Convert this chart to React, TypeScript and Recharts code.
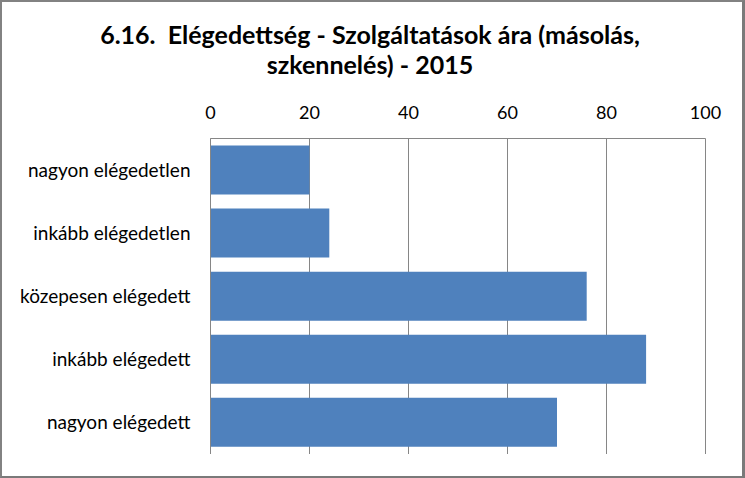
import { BarChart, Bar, XAxis, YAxis, CartesianGrid } from "recharts";

const categories = [
  "nagyon elégedetlen",
  "inkább elégedetlen",
  "közepesen elégedett",
  "inkább elégedett",
  "nagyon elégedett",
];
const values = [20, 24, 76, 88, 70];
const xTicks = [0, 20, 40, 60, 80, 100];

const TITLE_1 = "6.16.  Elégedettség - Szolgáltatások ára (másolás,";
const TITLE_2 = "szkennelés) - 2015";

const FONT = "Lato, 'Open Sans', sans-serif";
const GRAY = "#868686";

const data = categories.map((name, i) => ({ name, value: values[i] }));

export default function App() {
  return (
    <div
      style={{
        position: "relative",
        width: 745,
        height: 478,
        boxSizing: "border-box",
        borderTop: "2px solid #828282",
        borderLeft: "2px solid #828282",
        borderRight: "3px solid #7a7a7a",
        borderBottom: "2px solid #7a7a7a",
        background: "#fff",
        fontFamily: FONT,
      }}
    >
      <style>{`body{margin:0}`}</style>
      <div
        style={{
          position: "absolute",
          left: -2,
          top: 17,
          width: 740,
          textAlign: "center",
          fontWeight: 700,
          fontSize: 25,
          lineHeight: "30px",
          color: "#000",
        }}
      >
        <div style={{ whiteSpace: "pre" }}>{TITLE_1}</div>
        <div>{TITLE_2}</div>
      </div>
      <div style={{ position: "absolute", left: -2, top: -2 }}>
        <BarChart
          width={745}
          height={478}
          data={data}
          layout="vertical"
          margin={{ top: 100.5, right: 39.5, bottom: 24, left: 0.5 }}
          barCategoryGap="11%"
        >
          <CartesianGrid horizontal={false} stroke={GRAY} strokeWidth={1} />
          <XAxis
            type="number"
            orientation="top"
            domain={[0, 100]}
            ticks={xTicks}
            height={38}
            axisLine={{ stroke: GRAY }}
            tickLine={false}
            tickSize={0}
            tickMargin={20}
            tick={{ fill: "#000", fontSize: 18, fontFamily: FONT }}
            interval={0}
          />
          <YAxis
            type="category"
            dataKey="name"
            width={210}
            axisLine={{ stroke: GRAY }}
            tickLine={false}
            tickSize={0}
            tickMargin={20}
            tick={{ fill: "#000", fontSize: 19, fontFamily: FONT }}
            interval={0}
          />
          <Bar dataKey="value" fill="#4F81BD" isAnimationActive={false} />
        </BarChart>
      </div>
    </div>
  );
}
